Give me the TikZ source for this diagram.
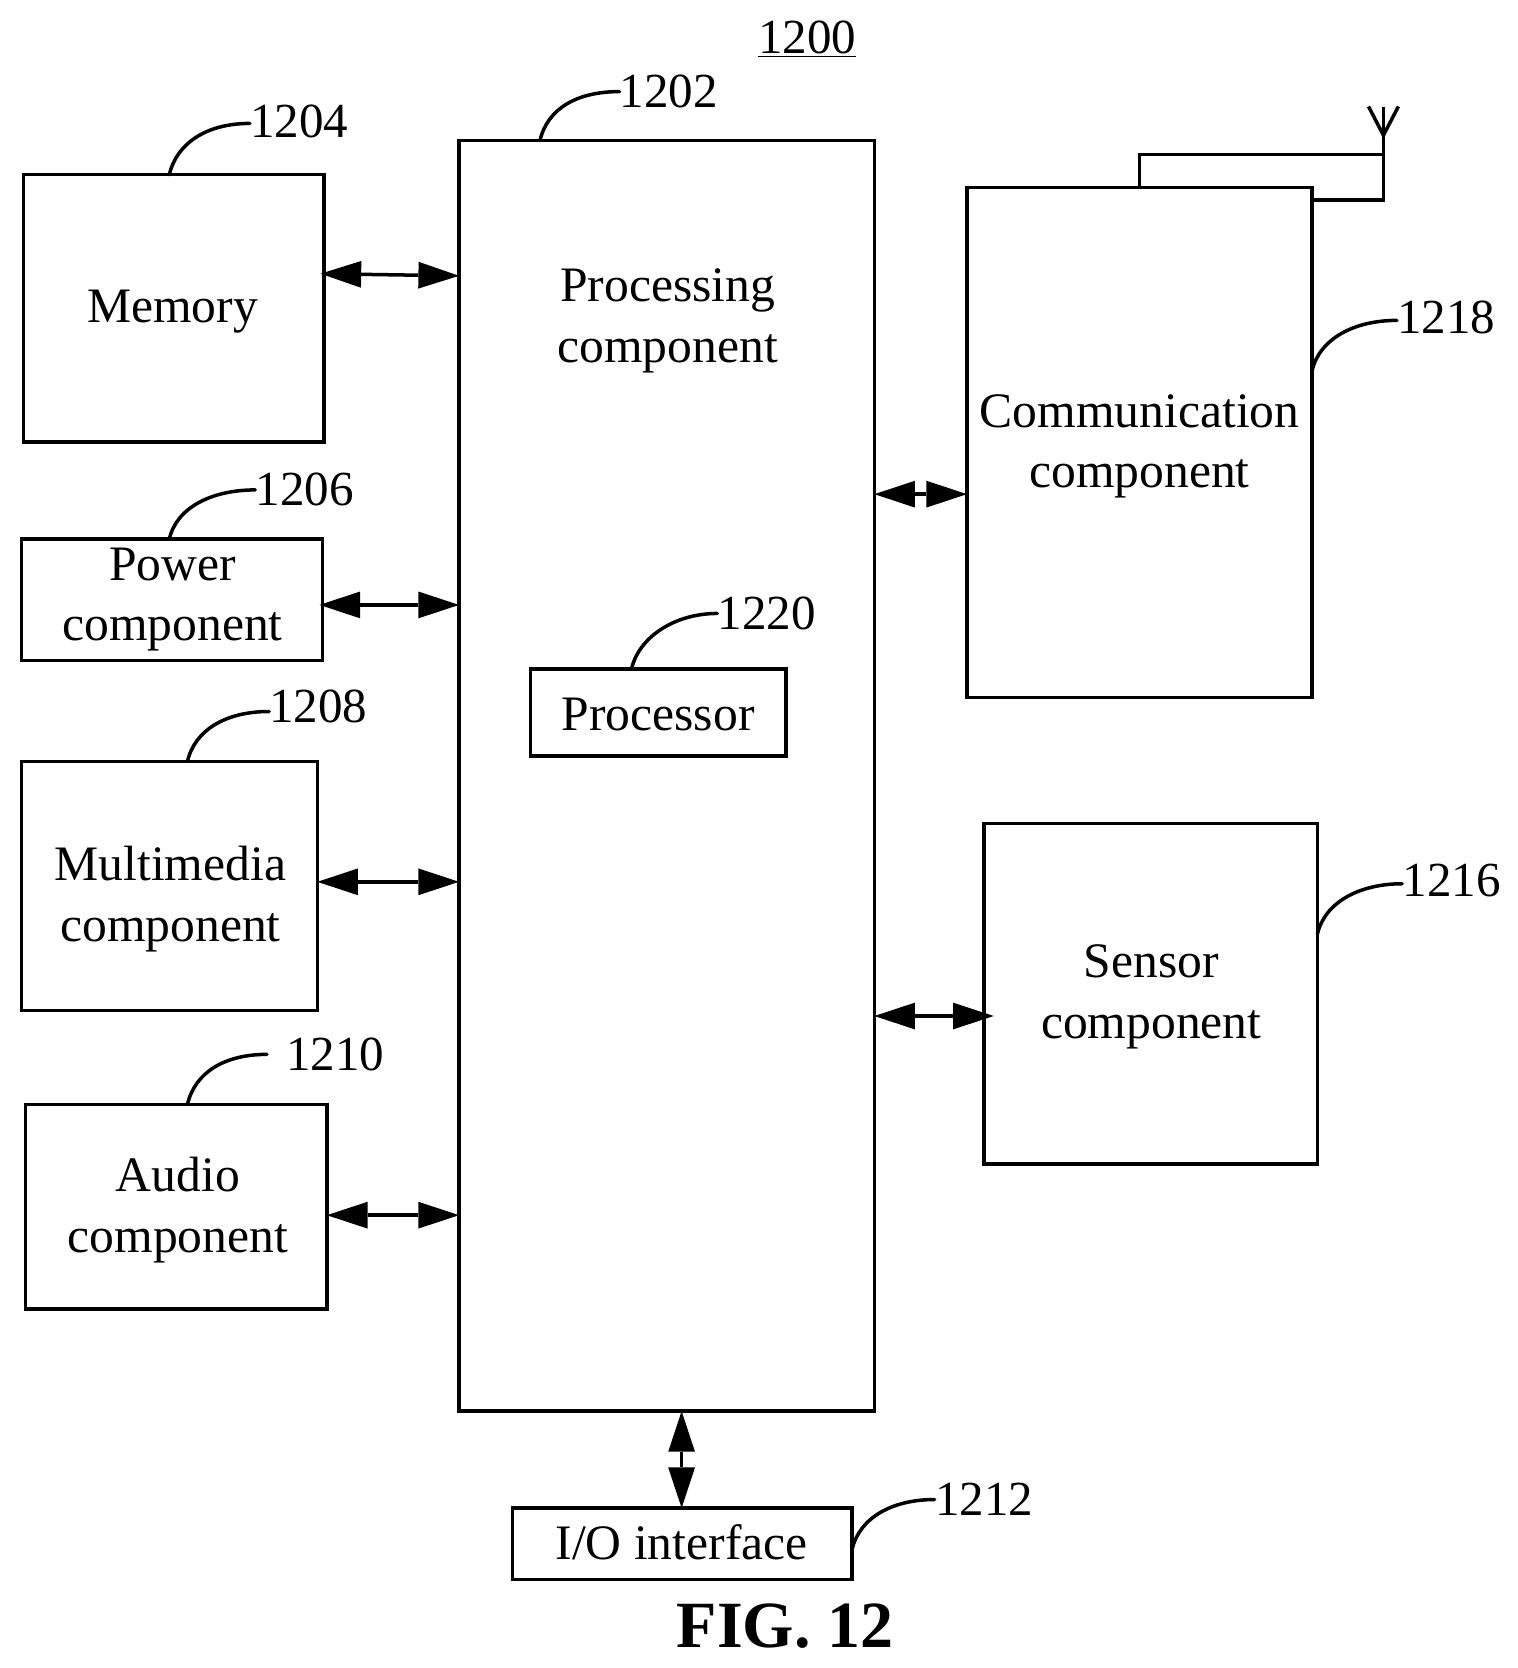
\documentclass[tikz,border=0pt]{standalone}
\usepackage{fontspec}
\setmainfont{Liberation Serif}
\usetikzlibrary{arrows.meta}
\newlength{\uu}\setlength{\uu}{0.5325pt}
\newcommand{\bx}[5]{%
  \pgfmathsetmacro{\cxx}{(#2+#4)/2}\pgfmathsetmacro{\cyy}{(#3+#5)/2}%
  \node[boxn,minimum width=\the\dimexpr\numexpr#4-#2\relax\uu\relax,minimum height=\the\dimexpr\numexpr#5-#3\relax\uu\relax] (#1) at (\cxx,\cyy) {};}
\tikzset{
  boxn/.style={draw=black,line width=1.75pt,inner sep=0pt,outer sep=0pt,rectangle,line join=miter},
  txt/.style={font=\fontsize{24.8}{30.3}\selectfont,align=center,inner sep=0pt,text=black},
  num/.style={font=\fontsize{24.5}{30}\selectfont,inner sep=0pt,text=black},
  conn/.style={line width=1.75pt,draw=black},
  bi/.style={conn,{Triangle[length=20.3pt,width=13.4pt,line width=0pt]}-{Triangle[length=20.3pt,width=13.4pt,line width=0pt]}},
  lead/.style={conn,line cap=round},
}
\begin{document}
\begin{tikzpicture}[x=0.5325pt,y=-0.5325pt]
\useasboundingbox (0,0) rectangle (1425.35,1566.2);
% boxes
\bx{mem}{22}{164}{304}{415}
\bx{pow}{20}{506}{303}{620}
\bx{mul}{20}{715}{298}{949}
\bx{aud}{24}{1037}{307}{1229}
\bx{proc}{431}{132}{821}{1325}
\bx{cpu}{498}{628}{738}{710}
\bx{com}{908}{176}{1232}{655}
\bx{sen}{924}{773}{1237}{1093}
\bx{io}{481}{1416}{800}{1483}
% box texts
\node[txt] (tmem) at (162,293) {Memory};
\node[txt] (tpow) at (162,563) {Power\\component};
\node[txt] (tmul) at (160,844) {Multimedia\\component};
\node[txt] (taud) at (167,1136) {Audio\\component};
\node[txt] (tproc) at (627,301) {Processing\\component};
\node[txt] (tcpu) at (618,671) {Processor};
\node[txt] (tcom) at (1070,419) {Communication\\component};
\node[txt] (tsen) at (1081,936) {Sensor\\component};
\node[txt] (tio) at (640,1448) {I/O interface};
% numbers
\node[num] (n1200) at (758,37) {\underline{1200}};
\node[num] (n1202) at (628,86) {1202};
\node[num] (n1204) at (281,114) {1204};
\node[num] (n1206) at (286,460) {1206};
\node[num] (n1208) at (299,663) {1208};
\node[num] (n1210) at (315,990) {1210};
\node[num] (n1220) at (720,576) {1220};
\node[num] (n1218) at (1358,298) {1218};
\node[num] (n1216) at (1363,827) {1216};
\node[num] (n1212) at (924,1408) {1212};
\node[font=\bfseries\fontsize{33}{36}\selectfont,inner sep=0pt] (fig) at (737,1527) {FIG. 12};
% leaders
\draw[lead] (mem.north -| 159,0) .. controls +(7,-30) and +(-40,0) .. ([yshift=-1pt]n1204.west);
\draw[lead] (proc.north -| 507,0) .. controls +(7,-30) and +(-40,0) .. (n1202.west);
\draw[lead] (pow.north -| 159,0) .. controls +(7,-30) and +(-40,0) .. (n1206.west);
\draw[lead] (mul.north -| 176,0) .. controls +(7,-30) and +(-40,0) .. ([yshift=-2.7pt]n1208.west);
\draw[lead] (aud.north -| 176,0) .. controls +(7,-30) and +(-40,0) .. ([xshift=-9.5pt]n1210.west);
\draw[lead] (cpu.north -| 593,0) .. controls +(7,-30) and +(-40,0) .. (n1220.west);
\draw[lead] (com.east |- 0,348) .. controls +(7,-30) and +(-40,0) .. ([yshift=-1.5pt]n1218.west);
\draw[lead] (sen.east |- 0,877) .. controls +(7,-30) and +(-40,0) .. ([yshift=-1.5pt]n1216.west);
\draw[lead] (io.east |- 0,1455) .. controls +(7,-30) and +(-40,0) .. (n1212.west);
% double arrows
\draw[bi] ([xshift=-1.6pt]mem.east |- 0,257) -- (proc.west |- 0,259);
\draw[bi] ([xshift=-1.6pt]pow.east |- 0,568) -- (proc.west |- 0,568);
\draw[bi] (mul.east |- 0,828) -- (proc.west |- 0,828);
\draw[bi] (aud.east |- 0,1141) -- (proc.west |- 0,1141);
\draw[bi] (proc.east |- 0,464) -- (com.west |- 0,464);
\draw[bi] (proc.east |- 0,954) -- ([xshift=4.8pt]sen.west |- 0,954);
\draw[bi] (proc.south -| 640,0) -- (io.north -| 640,0);
% antenna
\coordinate (antTop) at (1299,100);
\coordinate (antJ) at (1299,127);
\coordinate (antL) at (1285,100);
\coordinate (antR) at (1313,100);
\draw[conn,line join=miter] (com.north -| 1070,0) |- (1299,145);
\draw[conn,line join=miter] (com.east |- 0,188) -| (antTop);
\draw[conn,line join=miter] (antL) -- (antJ) -- (antR);
\end{tikzpicture}
\end{document}
